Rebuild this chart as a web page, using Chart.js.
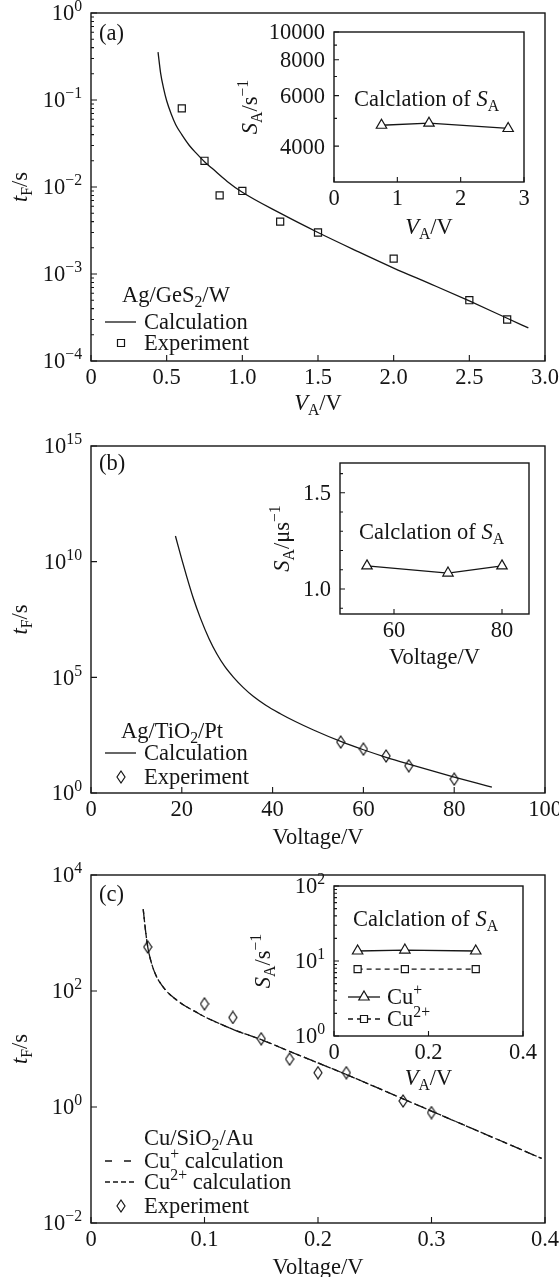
<!DOCTYPE html>
<html>
<head>
<meta charset="utf-8">
<script src="https://cdn.jsdelivr.net/npm/chart.js@4.4.1/dist/chart.umd.min.js"></script>
<style>
html, body { margin: 0; padding: 0; background: #fff; }
#wrap { position: relative; width: 559px; height: 1277px; }
#wrap canvas { position: absolute; left: 0; top: 0; }
</style>
</head>
<body>
<div id="wrap">
  <canvas id="mainA" width="559" height="1277"></canvas>
  <canvas id="insA" width="559" height="1277"></canvas>
  <canvas id="mainB" width="559" height="1277"></canvas>
  <canvas id="insB" width="559" height="1277"></canvas>
  <canvas id="mainC" width="559" height="1277"></canvas>
  <canvas id="insC" width="559" height="1277"></canvas>
</div>
<script>
'use strict';

// (a) Ag/GeS2/W
const aCalcV = [0.443, 0.46, 0.48, 0.5, 0.53, 0.56, 0.6, 0.65, 0.7, 0.75, 0.8, 0.9, 1.0, 1.25, 1.5, 1.75, 2.0, 2.25, 2.5, 2.75, 2.89];
const aCalcT = [0.355, 0.204, 0.135, 0.098, 0.069, 0.052, 0.040, 0.030, 0.024, 0.0195, 0.0164, 0.0116, 0.0087, 0.005, 0.003, 0.00186, 0.00117, 0.00076, 0.00049, 0.00031, 0.00024];
const aExpV = [0.6, 0.75, 0.85, 1.0, 1.25, 1.5, 2.0, 2.5, 2.75];
const aExpT = [0.08, 0.02, 0.008, 0.009, 0.004, 0.003, 0.0015, 0.0005, 0.0003];
const aInsV = [0.75, 1.5, 2.75];
const aInsS = [4730, 4810, 4610];
const aXTicks = [0, 0.5, 1, 1.5, 2, 2.5, 3];
const aXLabels = ['0', '0.5', '1.0', '1.5', '2.0', '2.5', '3.0'];
const aYExp = [-4, -3, -2, -1, 0];
const aInsXTicks = [0, 1, 2, 3];
const aInsXLabels = ['0', '1', '2', '3'];
const aInsYTicks = [4000, 6000, 8000, 10000];
const aInsYLabels = ['4000', '6000', '8000', '10000'];
const aInsYMinor = [5000, 7000, 9000];

// (b) Ag/TiO2/Pt
const bCalcV = [18.6, 20, 21.1, 22.5, 24.1, 26, 27.7, 29.5, 31.4, 33.5, 35.8, 38.5, 41.7, 45, 49, 55, 60, 65, 70, 75, 80, 85, 88.3];
const bCalcT = [1.29e11, 1.26e10, 2.19e9, 2.75e8, 3.63e7, 4.68e6, 1.05e6, 2.88e5, 1e5, 3.68e4, 1.47e4, 6190, 2680, 1230, 530, 170, 74, 35, 17.7, 9.2, 4.87, 2.65, 1.8];
const bExpV = [55, 60, 65, 70, 80];
const bExpT = [160, 79, 40, 15, 4];
const bInsV = [55, 70, 80];
const bInsS = [1.12, 1.083, 1.12];
const bXTicks = [0, 20, 40, 60, 80, 100];
const bXLabels = ['0', '20', '40', '60', '80', '100'];
const bYExp = [0, 5, 10, 15];
const bInsXTicks = [60, 80];
const bInsXLabels = ['60', '80'];
const bInsYTicks = [1.0, 1.5];
const bInsYLabels = ['1.0', '1.5'];
const bInsYMinor = [0.9, 1.1, 1.2, 1.3, 1.4, 1.6];

// (c) Cu/SiO2/Au
const cCalcV = [0.046, 0.048, 0.05, 0.053, 0.057, 0.062, 0.068, 0.075, 0.083, 0.092, 0.1, 0.113, 0.126, 0.15, 0.175, 0.2, 0.225, 0.25, 0.275, 0.3, 0.343, 0.397];
const cCalcT = [2570, 1120, 575, 316, 190, 129, 93, 71, 55, 44, 36, 27.5, 21.4, 14.5, 9.1, 5.75, 3.63, 2.24, 1.38, 0.85, 0.37, 0.13];
const cExpV = [0.05, 0.1, 0.125, 0.15, 0.175, 0.2, 0.225, 0.275, 0.3];
const cExpT = [575, 60, 35, 15, 6.7, 3.9, 3.9, 1.27, 0.8];
const cInsV = [0.05, 0.15, 0.3];
const cInsCu1 = [13.6, 14, 13.6];
const cInsCu2 = [7.8, 7.8, 7.8];
const cXTicks = [0, 0.1, 0.2, 0.3, 0.4];
const cXLabels = ['0', '0.1', '0.2', '0.3', '0.4'];
const cYExp = [-2, 0, 2, 4];
const cInsXTicks = [0, 0.2, 0.4];
const cInsXLabels = ['0', '0.2', '0.4'];
const cInsYExp = [0, 1, 2];

const FONT = '"Liberation Serif", "Times New Roman", serif';
const FS = 22.5;
const INK = '#151515';

function fontOf(s, size) {
    let sz = (s.sub || s.sup) ? size * 0.7 : size;
    return (s.it ? 'italic ' : '') + sz + 'px ' + FONT;
}

function richWidth(ctx, segs, size) {
    let w = 0;
    segs.forEach(s => { ctx.font = fontOf(s, size); w += ctx.measureText(s.t).width; });
    return w;
}

function drawRich(ctx, segs, x, cy, align, rot) {
    let size = FS;
    ctx.save();
    ctx.translate(x, cy);
    if (rot) ctx.rotate(rot);
    let w = richWidth(ctx, segs, size);
    let cx = align === 'left' ? 0 : (align === 'right' ? -w : -w / 2);
    ctx.fillStyle = INK;
    ctx.textAlign = 'left';
    ctx.textBaseline = 'alphabetic';
    segs.forEach(s => {
        ctx.font = fontOf(s, size);
        let dy = s.sub ? size * 0.22 : (s.sup ? -size * 0.4 : 0);
        ctx.fillText(s.t, cx, size * 0.33 + dy);
        cx += ctx.measureText(s.t).width;
    });
    ctx.restore();
}

const plain = t => [{ t: t }];
const pow10 = e => [{ t: '10' }, { t: e < 0 ? '\u2212' + (-e) : String(e), sup: true }];
const logMinor = exps => {
    let out = [];
    for (let i = 0; i < exps.length - 1; i++) {
        for (let k = 2; k <= 9; k++) out.push(k * Math.pow(10, exps[i]));
    }
    return out;
};

const tF = [{ t: 't', it: true }, { t: 'F', sub: true }, { t: '/s' }];
const VA = [{ t: 'V', it: true }, { t: 'A', sub: true }, { t: '/V' }];
const volt = plain('Voltage/V');
const SAs = [{ t: 'S', it: true }, { t: 'A', sub: true }, { t: '/s' }, { t: '\u22121', sup: true }];
const SAus = [{ t: 'S', it: true }, { t: 'A', sub: true }, { t: '/\u03bcs' }, { t: '\u22121', sup: true }];
const calcSA = [{ t: 'Calclation of ' }, { t: 'S', it: true }, { t: 'A', sub: true }];

function drawMark(ctx, type, x, y) {
    ctx.save();
    ctx.strokeStyle = INK;
    ctx.lineWidth = 1.2;
    ctx.setLineDash([]);
    ctx.beginPath();
    if (type === 'square') {
        ctx.rect(x - 3.5, y - 3.5, 7, 7);
    } else if (type === 'diamond') {
        ctx.moveTo(x, y - 6); ctx.lineTo(x + 4, y); ctx.lineTo(x, y + 6); ctx.lineTo(x - 4, y); ctx.closePath();
    } else {
        let r = 6;
        ctx.moveTo(x, y - r); ctx.lineTo(x + r * 0.866, y + r / 2); ctx.lineTo(x - r * 0.866, y + r / 2); ctx.closePath();
    }
    ctx.fillStyle = '#fff';
    if (type !== 'diamond') ctx.fill();
    ctx.stroke();
    ctx.restore();
}

function drawKey(ctx, k) {
    ctx.save();
    ctx.strokeStyle = INK;
    ctx.lineWidth = 1.3;
    if (k.x1 !== undefined) {
        ctx.setLineDash(k.dash || []);
        ctx.beginPath(); ctx.moveTo(k.x1, k.y); ctx.lineTo(k.x2, k.y); ctx.stroke();
        ctx.setLineDash([]);
    }
    if (k.mark) drawMark(ctx, k.mark, k.mx, k.y);
    if (k.segs) drawRich(ctx, k.segs, k.tx, k.y, 'left');
    ctx.restore();
}

const decoPlugin = {
    id: 'deco',
    afterDatasetsDraw(chart, args, o) {
        const ctx = chart.ctx;
        const a = chart.chartArea;
        const x = chart.scales.x, y = chart.scales.y;
        const big = o.tickLen || 6, small = 3;
        ctx.save();
        ctx.strokeStyle = INK;
        ctx.lineWidth = 1.4;
        ctx.strokeRect(a.left, a.top, a.right - a.left, a.bottom - a.top);
        ctx.lineWidth = 1.1;
        ctx.beginPath();
        o.xTicks.forEach(v => { let p = x.getPixelForValue(v); ctx.moveTo(p, a.bottom); ctx.lineTo(p, a.bottom - big); });
        (o.xMinor || []).forEach(v => { let p = x.getPixelForValue(v); ctx.moveTo(p, a.bottom); ctx.lineTo(p, a.bottom - small); });
        o.yTicks.forEach(v => { let p = y.getPixelForValue(v); ctx.moveTo(a.left, p); ctx.lineTo(a.left + big, p); });
        (o.yMinor || []).forEach(v => { let p = y.getPixelForValue(v); ctx.moveTo(a.left, p); ctx.lineTo(a.left + small, p); });
        ctx.stroke();
        o.xTicks.forEach((v, i) => drawRich(ctx, o.xLabels[i], x.getPixelForValue(v), a.bottom + 16, 'center'));
        o.yTicks.forEach((v, i) => drawRich(ctx, o.yLabels[i], a.left - 9, y.getPixelForValue(v), 'right'));
        drawRich(ctx, o.xTitle, (a.left + a.right) / 2, a.bottom + o.xTitleOff, 'center');
        drawRich(ctx, o.yTitle, a.left - o.yTitleOff, (a.top + a.bottom) / 2, 'center', -Math.PI / 2);
        (o.texts || []).forEach(t => drawRich(ctx, t.segs, t.x, t.y, 'left'));
        (o.keys || []).forEach(k => drawKey(ctx, k));
        ctx.restore();
    }
};

function diamondImage() {
    let c = document.createElement('canvas');
    c.width = 10; c.height = 14;
    let g = c.getContext('2d');
    g.strokeStyle = INK;
    g.lineWidth = 1.2;
    g.beginPath();
    g.moveTo(5, 1); g.lineTo(9, 7); g.lineTo(5, 13); g.lineTo(1, 7); g.closePath();
    g.stroke();
    return c;
}
const diamond = diamondImage();

const pts = (xs, ys) => xs.map((v, i) => ({ x: v, y: ys[i] }));

function curve(xs, ys, dash) {
    return {
        data: pts(xs, ys), borderColor: INK, borderWidth: 1.3, pointRadius: 0,
        borderDash: dash || [], cubicInterpolationMode: 'monotone', fill: false
    };
}

function marks(xs, ys, style, r, line) {
    return {
        data: pts(xs, ys), showLine: !!line, borderColor: INK, borderWidth: 1.3,
        pointStyle: style, pointRadius: r, pointBorderColor: INK, pointBorderWidth: 1.2,
        pointBackgroundColor: style === 'rect' || style === 'triangle' ? '#fff' : 'rgba(0,0,0,0)',
        borderDash: line && line.dash ? line.dash : [], tension: 0
    };
}

function mkChart(id, box, xs, ys, datasets, deco) {
    return new Chart(document.getElementById(id), {
        type: 'line',
        data: { datasets: datasets },
        options: {
            responsive: false,
            animation: false,
            devicePixelRatio: 1,
            events: [],
            layout: { padding: { left: box[0], right: 559 - box[1], top: box[2], bottom: 1277 - box[3] } },
            plugins: { legend: { display: false }, tooltip: { enabled: false }, deco: deco },
            scales: {
                x: Object.assign({ type: 'linear', display: false }, xs),
                y: Object.assign({ display: false }, ys)
            }
        },
        plugins: [decoPlugin]
    });
}

// panel (a)
mkChart('mainA', [91, 545, 13, 361],
    { min: 0, max: 3 }, { type: 'logarithmic', min: 1e-4, max: 1 },
    [curve(aCalcV, aCalcT), marks(aExpV, aExpT, 'rect', 5)],
    {
        xTicks: aXTicks, xLabels: aXLabels.map(plain),
        yTicks: aYExp.map(e => Math.pow(10, e)), yLabels: aYExp.map(pow10), yMinor: logMinor(aYExp),
        xTitle: VA, yTitle: tF, xTitleOff: 42, yTitleOff: 71,
        texts: [
            { segs: plain('(a)'), x: 99, y: 33 },
            { segs: [{ t: 'Ag/GeS' }, { t: '2', sub: true }, { t: '/W' }], x: 122, y: 295 }
        ],
        keys: [
            { x1: 105, x2: 136, y: 322, segs: plain('Calculation'), tx: 144 },
            { mark: 'square', mx: 121, y: 343, segs: plain('Experiment'), tx: 144 }
        ]
    });

mkChart('insA', [334, 524, 32, 182],
    { min: 0, max: 3 }, { type: 'logarithmic', min: 3000, max: 10000 },
    [marks(aInsV, aInsS, 'triangle', 6, {})],
    {
        tickLen: 5,
        xTicks: aInsXTicks, xLabels: aInsXLabels.map(plain),
        yTicks: aInsYTicks, yLabels: aInsYLabels.map(plain), yMinor: aInsYMinor,
        xTitle: VA, yTitle: SAs, xTitleOff: 45, yTitleOff: 84,
        texts: [{ segs: calcSA, x: 354, y: 99 }]
    });

// panel (b)
mkChart('mainB', [91, 545, 446, 793],
    { min: 0, max: 100 }, { type: 'logarithmic', min: 1, max: 1e15 },
    [curve(bCalcV, bCalcT), marks(bExpV, bExpT, diamond, 6)],
    {
        xTicks: bXTicks, xLabels: bXLabels.map(plain),
        yTicks: bYExp.map(e => Math.pow(10, e)), yLabels: bYExp.map(pow10),
        xTitle: volt, yTitle: tF, xTitleOff: 44, yTitleOff: 71,
        texts: [
            { segs: plain('(b)'), x: 99, y: 463 },
            { segs: [{ t: 'Ag/TiO' }, { t: '2', sub: true }, { t: '/Pt' }], x: 121, y: 731 }
        ],
        keys: [
            { x1: 105, x2: 136, y: 753, segs: plain('Calculation'), tx: 144 },
            { mark: 'diamond', mx: 121, y: 777, segs: plain('Experiment'), tx: 144 }
        ]
    });

mkChart('insB', [340, 529, 463, 614],
    { min: 50, max: 85 }, { type: 'linear', min: 0.87, max: 1.655 },
    [marks(bInsV, bInsS, 'triangle', 6, {})],
    {
        tickLen: 5,
        xTicks: bInsXTicks, xLabels: bInsXLabels.map(plain),
        yTicks: bInsYTicks, yLabels: bInsYLabels.map(plain), yMinor: bInsYMinor,
        xTitle: volt, yTitle: SAus, xTitleOff: 43, yTitleOff: 58,
        texts: [{ segs: calcSA, x: 359, y: 532 }]
    });

// panel (c)
mkChart('mainC', [91, 545, 875, 1223],
    { min: 0, max: 0.4 }, { type: 'logarithmic', min: 0.01, max: 1e4 },
    [curve(cCalcV, cCalcT, [10, 5]), curve(cCalcV, cCalcT, [5, 3]), marks(cExpV, cExpT, diamond, 6)],
    {
        xTicks: cXTicks, xLabels: cXLabels.map(plain),
        yTicks: cYExp.map(e => Math.pow(10, e)), yLabels: cYExp.map(pow10),
        xTitle: volt, yTitle: tF, xTitleOff: 44, yTitleOff: 71,
        texts: [
            { segs: plain('(c)'), x: 99, y: 894 },
            { segs: [{ t: 'Cu/SiO' }, { t: '2', sub: true }, { t: '/Au' }], x: 144, y: 1138 }
        ],
        keys: [
            { x1: 105, x2: 131, y: 1161, dash: [7, 12], segs: [{ t: 'Cu' }, { t: '+', sup: true }, { t: ' calculation' }], tx: 144 },
            { x1: 105, x2: 136, y: 1182, dash: [5, 3], segs: [{ t: 'Cu' }, { t: '2+', sup: true }, { t: ' calculation' }], tx: 144 },
            { mark: 'diamond', mx: 121, y: 1206, segs: plain('Experiment'), tx: 144 }
        ]
    });

mkChart('insC', [334, 523, 886, 1036],
    { min: 0, max: 0.4 }, { type: 'logarithmic', min: 1, max: 100 },
    [marks(cInsV, cInsCu1, 'triangle', 6, {}), marks(cInsV, cInsCu2, 'rect', 5, { dash: [5, 4] })],
    {
        tickLen: 5,
        xTicks: cInsXTicks, xLabels: cInsXLabels.map(plain),
        yTicks: cInsYExp.map(e => Math.pow(10, e)), yLabels: cInsYExp.map(pow10), yMinor: logMinor(cInsYExp),
        xTitle: VA, yTitle: SAs, xTitleOff: 42, yTitleOff: 71,
        texts: [{ segs: calcSA, x: 353, y: 919 }],
        keys: [
            { x1: 348, x2: 380, y: 997, mark: 'triangle', mx: 364, segs: [{ t: 'Cu' }, { t: '+', sup: true }], tx: 387 },
            { x1: 348, x2: 380, y: 1019, dash: [5, 4], mark: 'square', mx: 364, segs: [{ t: 'Cu' }, { t: '2+', sup: true }], tx: 387 }
        ]
    });
</script>
</body>
</html>
